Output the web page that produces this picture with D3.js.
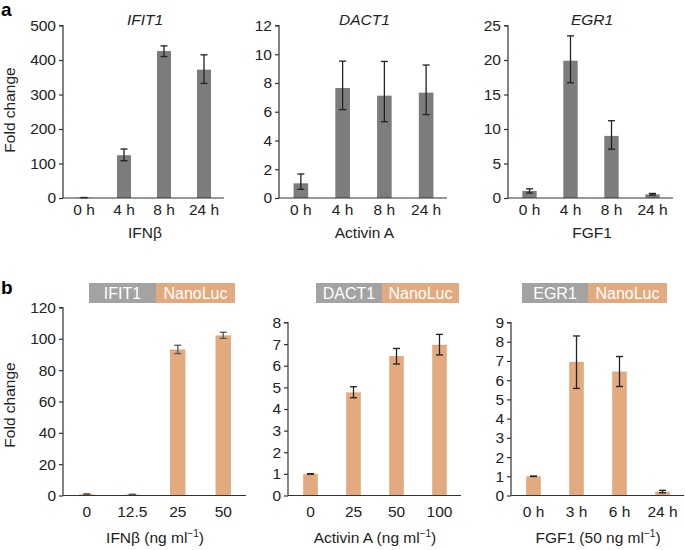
<!DOCTYPE html>
<html><head><meta charset="utf-8">
<script src="https://cdn.jsdelivr.net/npm/d3@7"></script>
<style>
body{margin:0;background:#fff;}
svg text{font-family:"Liberation Sans",Arial,Helvetica,sans-serif;fill:#222;}
</style></head>
<body><svg id="c" width="685" height="550"></svg>
<script>
// ---- Panel a data ----
const a1Cats = ["0 h","4 h","8 h","24 h"];
const a1Vals = [1, 124, 426, 372];
const a1Lo   = [0.5, 108, 410, 332];
const a1Hi   = [1.5, 142, 441, 415];
const a1Ticks = [0,100,200,300,400,500];

const a2Cats = ["0 h","4 h","8 h","24 h"];
const a2Vals = [1.02, 7.65, 7.12, 7.33];
const a2Lo   = [0.6, 6.15, 5.31, 5.8];
const a2Hi   = [1.67, 9.52, 9.5, 9.25];
const a2Ticks = [0,2,4,6,8,10,12];

const a3Cats = ["0 h","4 h","8 h","24 h"];
const a3Vals = [1.02, 19.9, 9.0, 0.53];
const a3Lo   = [0.72, 16.7, 7.07, 0.43];
const a3Hi   = [1.33, 23.5, 11.2, 0.66];
const a3Ticks = [0,5,10,15,20,25];

// ---- Panel b data ----
const b1Cats = ["0","12.5","25","50"];
const b1Vals = [0.8, 0.6, 93.2, 102.2];
const b1Lo   = [0.5, 0.4, 90.6, 100.3];
const b1Hi   = [1.1, 0.8, 95.9, 104.2];
const b1Ticks = [0,20,40,60,80,100,120];

const b2Cats = ["0","25","50","100"];
const b2Vals = [1.0, 4.77, 6.45, 6.97];
const b2Lo   = [0.99, 4.52, 6.08, 6.5];
const b2Hi   = [1.01, 5.03, 6.8, 7.45];
const b2Ticks = [0,1,2,3,4,5,6,7,8];

const b3Cats = ["0 h","3 h","6 h","24 h"];
const b3Vals = [1.0, 6.95, 6.45, 0.2];
const b3Lo   = [0.99, 5.57, 5.67, 0.14];
const b3Hi   = [1.01, 8.3, 7.23, 0.27];
const b3Ticks = [0,1,2,3,4,5,6,7,8,9];

const aTitles = ["IFIT1","DACT1","EGR1"];
const aXTitles = ["IFNβ","Activin A","FGF1"];
const bGenes = ["IFIT1","DACT1","EGR1"];
const bXTitles = ["IFNβ (ng ml","Activin A (ng ml","FGF1 (50 ng ml"];
const reporter = "NanoLuc";

const svg = d3.select("#c");
const AX = "#333";
const GRAY_BAR = "#7c7c7c";
const ORANGE = "#e2aa7e";
const LEG_GRAY = "#a3a3a3";
const FS = 15.5;

function chart(o){
  const g = svg.append("g");
  const x = d3.scaleBand().domain(o.cats).range([o.x0,o.x1]).paddingInner(o.pad).paddingOuter(o.pad/2);
  const y = d3.scaleLinear().domain([0, d3.max(o.ticks)]).range([o.yb, o.yt]);
  g.selectAll("rect.bar").data(o.vals).enter().append("rect")
    .attr("x",(d,i)=>x(o.cats[i])).attr("width",x.bandwidth())
    .attr("y",d=>y(d)).attr("height",d=>y(0)-y(d)).attr("fill",o.color);
  const cw = 3.5;
  o.vals.forEach((v,i)=>{
    const cx = x(o.cats[i]) + x.bandwidth()/2;
    const lo = y(o.lo[i]), hi = y(o.hi[i]);
    g.append("line").attr("x1",cx).attr("x2",cx).attr("y1",lo).attr("y2",hi).attr("stroke",o.ecol).attr("stroke-width",1.3);
    [lo,hi].forEach(yy=>g.append("line").attr("x1",cx-cw).attr("x2",cx+cw).attr("y1",yy).attr("y2",yy).attr("stroke",o.ecol).attr("stroke-width",1.3));
  });
  const ya = g.append("g").attr("transform",`translate(${o.x0-1},0)`)
    .call(d3.axisLeft(y).tickValues(o.ticks).tickSize(4).tickPadding(3).tickFormat(d3.format("d")));
  ya.selectAll("path,line").attr("stroke",AX).attr("stroke-width",1.2);
  ya.select("path").attr("d",`M-4,${o.yt}H0V${o.yb}`);
  ya.selectAll("text").attr("font-size",FS).attr("fill","#222").attr("font-family","Liberation Sans, Arial, sans-serif");
  g.append("line").attr("x1",o.x0-1).attr("x2",o.x1).attr("y1",o.yb).attr("y2",o.yb).attr("stroke",AX).attr("stroke-width",1.2);
  g.selectAll("text.xl").data(o.cats).enter().append("text")
    .attr("x",d=>x(d)+x.bandwidth()/2).attr("y",o.xly).attr("text-anchor","middle").attr("font-size",FS).text(d=>d);
  return {x,y};
}

const aCfg = [
  {cats:a1Cats, vals:a1Vals, lo:a1Lo, hi:a1Hi, ticks:a1Ticks, x0:64, x1:224},
  {cats:a2Cats, vals:a2Vals, lo:a2Lo, hi:a2Hi, ticks:a2Ticks, x0:280, x1:447},
  {cats:a3Cats, vals:a3Vals, lo:a3Lo, hi:a3Hi, ticks:a3Ticks, x0:509, x1:673}
];
aCfg.forEach((c,i)=>{
  Object.assign(c,{pad:0.65, yt:25.5, yb:198, color:GRAY_BAR, ecol:"#222", xly:215});
  chart(c);
  const cx = (c.x0+c.x1)/2 + 1;
  svg.append("text").attr("x",cx).attr("y",25).attr("text-anchor","middle").attr("font-size",FS).attr("font-style","italic").text(aTitles[i]);
  svg.append("text").attr("x",cx).attr("y",238).attr("text-anchor","middle").attr("font-size",FS).text(aXTitles[i]);
});

const bCfg = [
  {cats:b1Cats, vals:b1Vals, lo:b1Lo, hi:b1Hi, ticks:b1Ticks, x0:64, x1:246, yt:307.5, leg:[89,156,235]},
  {cats:b2Cats, vals:b2Vals, lo:b2Lo, hi:b2Hi, ticks:b2Ticks, x0:289, x1:461, yt:322.5, leg:[316,382,459]},
  {cats:b3Cats, vals:b3Vals, lo:b3Lo, hi:b3Hi, ticks:b3Ticks, x0:512, x1:684, yt:322.5, leg:[522,588,667]}
];
bCfg.forEach((c,i)=>{
  Object.assign(c,{pad:0.66, yb:495.5, color:ORANGE, ecol: i===0 ? "#555" : "#222", xly:517});
  chart(c);
  const cx = (c.x0+c.x1)/2;
  const t = svg.append("text").attr("x",cx).attr("y",543).attr("text-anchor","middle").attr("font-size",FS);
  t.append("tspan").text(bXTitles[i]);
  t.append("tspan").attr("font-size",10).attr("dy",-6).text("−1");
  t.append("tspan").attr("dy",6).text(")");
  const [l0,l1,l2] = c.leg;
  svg.append("rect").attr("x",l0).attr("y",283).attr("width",l1-l0).attr("height",20).attr("fill",LEG_GRAY);
  svg.append("rect").attr("x",l1).attr("y",283).attr("width",l2-l1).attr("height",20).attr("fill",ORANGE);
  svg.append("text").attr("x",(l0+l1)/2).attr("y",299).attr("text-anchor","middle").attr("font-size",16).style("fill","#fff").text(bGenes[i]);
  svg.append("text").attr("x",(l1+l2)/2).attr("y",299).attr("text-anchor","middle").attr("font-size",16).style("fill","#fff").text(reporter);
});

svg.append("text").attr("transform","translate(15,110) rotate(-90)").attr("text-anchor","middle").attr("font-size",FS).text("Fold change");
svg.append("text").attr("transform","translate(15,405) rotate(-90)").attr("text-anchor","middle").attr("font-size",FS).text("Fold change");
svg.append("text").attr("x",1).attr("y",16).attr("font-size",19).attr("font-weight","bold").style("fill","#000").text("a");
svg.append("text").attr("x",1).attr("y",294).attr("font-size",19).attr("font-weight","bold").style("fill","#000").text("b");
</script></body></html>
